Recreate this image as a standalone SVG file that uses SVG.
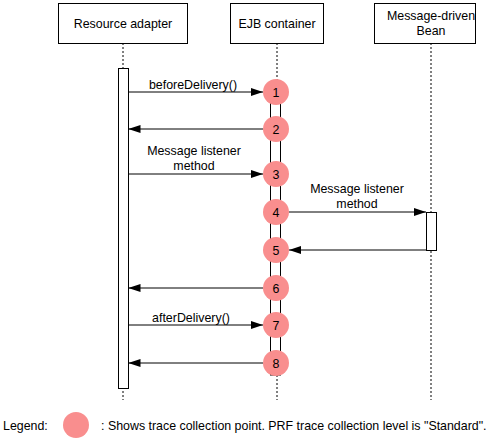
<svg xmlns="http://www.w3.org/2000/svg" width="491" height="440" viewBox="0 0 491 440">
<defs>
<marker id="ah" markerWidth="12" markerHeight="8" refX="12" refY="4" orient="auto" markerUnits="userSpaceOnUse"><path d="M0,0 L12,4 L0,8 Z" fill="#000"/></marker>
<style>
.box{fill:#fff;stroke:#000;stroke-width:1}
.life{stroke:#000;stroke-width:1;stroke-dasharray:2,2;fill:none}
.act{fill:#fff;stroke:#000;stroke-width:1}
.msg{stroke:#000;stroke-width:1;fill:none;marker-end:url(#ah)}
.pt{fill:#F98E8E}
text{font-family:"Liberation Sans",Arial,sans-serif;font-size:12.4px;fill:#000}
.c{text-anchor:middle}
</style>
</defs>
<g id="lifelines">
<line class="life" x1="123" y1="43" x2="123" y2="400"/>
<line class="life" x1="277" y1="43" x2="277" y2="400"/>
<line class="life" x1="431" y1="43" x2="431" y2="400"/>
</g>
<g id="n-ra"><rect class="box" x="58.5" y="3.5" width="129" height="40"/><text class="c" x="123" y="27.5">Resource adapter</text></g>
<g id="n-ejb"><rect class="box" x="230.5" y="3.5" width="93" height="40"/><text class="c" x="277" y="27.5">EJB container</text></g>
<g id="n-mdb"><rect class="box" x="374.5" y="3.5" width="101" height="40"/><text class="c" x="431" y="20">Message-driven</text><text class="c" x="431" y="35">Bean</text></g>
<g id="activations">
<rect class="act" x="118.5" y="68.5" width="10" height="320"/>
<rect class="act" x="270.5" y="100" width="10" height="275"/>
<rect class="act" x="426.5" y="212.5" width="10" height="38"/>
</g>
<g id="connectors">
<line class="msg" x1="128.5" y1="92" x2="263" y2="92"/>
<line class="msg" x1="263" y1="129" x2="128.5" y2="129"/>
<line class="msg" x1="128.5" y1="174" x2="263" y2="174"/>
<line class="msg" x1="289" y1="212" x2="426" y2="212"/>
<line class="msg" x1="426" y1="250" x2="289" y2="250"/>
<line class="msg" x1="263" y1="288" x2="128.5" y2="288"/>
<line class="msg" x1="128.5" y1="325" x2="263" y2="325"/>
<line class="msg" x1="263" y1="363" x2="128.5" y2="363"/>
</g>
<g id="labels">
<text class="c" x="193" y="89">beforeDelivery()</text>
<text class="c" x="194" y="155">Message listener</text>
<text class="c" x="194" y="170">method</text>
<text class="c" x="357" y="193">Message listener</text>
<text class="c" x="357" y="208">method</text>
<text class="c" x="191" y="322">afterDelivery()</text>
</g>
<g id="points">
<g id="p1"><circle class="pt" cx="276" cy="92" r="13"/><text class="c" x="276" y="96.5">1</text></g>
<g id="p2"><circle class="pt" cx="276" cy="129" r="13"/><text class="c" x="276" y="133.5">2</text></g>
<g id="p3"><circle class="pt" cx="276" cy="174" r="13"/><text class="c" x="276" y="178.5">3</text></g>
<g id="p4"><circle class="pt" cx="276" cy="212" r="13"/><text class="c" x="276" y="216.5">4</text></g>
<g id="p5"><circle class="pt" cx="276" cy="250" r="13"/><text class="c" x="276" y="254.5">5</text></g>
<g id="p6"><circle class="pt" cx="276" cy="288" r="13"/><text class="c" x="276" y="292.5">6</text></g>
<g id="p7"><circle class="pt" cx="276" cy="325" r="13"/><text class="c" x="276" y="329.5">7</text></g>
<g id="p8"><circle class="pt" cx="276" cy="363" r="13"/><text class="c" x="276" y="367.5">8</text></g>
</g>
<g id="legend">
<text x="3" y="429.5">Legend:</text>
<circle class="pt" cx="76" cy="425" r="13"/>
<text x="101" y="429.5">: Shows trace collection point. PRF trace collection level is "Standard".</text>
</g>
</svg>
